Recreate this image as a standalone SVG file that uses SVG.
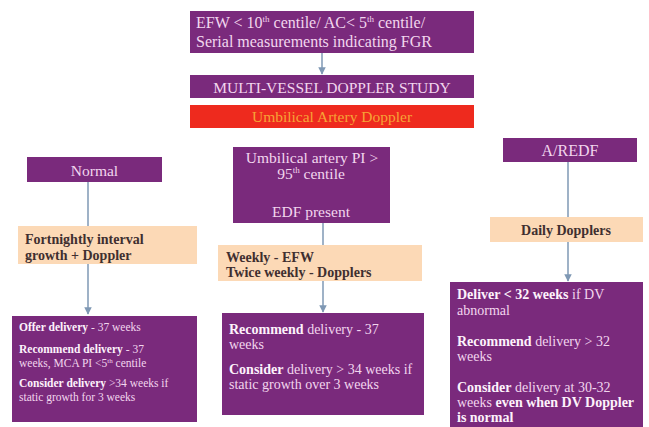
<svg xmlns="http://www.w3.org/2000/svg" width="649" height="427" viewBox="0 0 649 427">
<style>
text,tspan{font-family:"Liberation Serif","Times New Roman",serif}
.p{fill:#7a2a7c}
.pe{fill:#fcd9b6}
.w{fill:#f2d6ee}
.h{font-size:15.5px}
.wb{font-weight:bold;fill:#fdf2fb}
.d{fill:#3f2f30;font-size:14px;font-weight:bold}
.ln{stroke:#7f98b4;stroke-width:1.5;fill:none}
.s12{font-size:11.5px}
.s14{font-size:14px}
</style>
<defs>
<marker id="ah" viewBox="0 0 10 10" refX="9" refY="5" markerWidth="5" markerHeight="5" orient="auto">
<path d="M0,0 L10,5 L0,10 z" fill="#7f98b4"/>
</marker>
</defs>
<rect width="649" height="427" fill="#ffffff"/>
<g id="connectors">
<line class="ln" x1="322" y1="53" x2="322" y2="74" marker-end="url(#ah)"/>
<line class="ln" x1="88" y1="182" x2="88" y2="314" marker-end="url(#ah)"/>
<line class="ln" x1="323" y1="223" x2="323" y2="312" marker-end="url(#ah)"/>
<line class="ln" x1="568" y1="162" x2="568" y2="281" marker-end="url(#ah)"/>
</g>
<g id="fgr">
<rect class="p" x="190" y="11" width="284" height="42"/>
<text class="w" x="196" y="28" font-size="16">EFW &lt; 10<tspan font-size="9" dy="-6">th</tspan><tspan dy="6"> centile/ AC&lt; 5</tspan><tspan font-size="9" dy="-6">th</tspan><tspan dy="6"> centile/</tspan></text>
<text class="w" x="196" y="47" font-size="16">Serial measurements indicating FGR</text>
</g>
<g id="mvd">
<rect class="p" x="190" y="75" width="284" height="23"/>
<text class="w h" x="332" y="93" text-anchor="middle">MULTI-VESSEL DOPPLER STUDY</text>
</g>
<g id="uad">
<rect x="190" y="105" width="284" height="23" fill="#ee2a1e"/>
<text class="h" x="332" y="122" text-anchor="middle" fill="#f6a236">Umbilical Artery Doppler</text>
</g>
<g id="normal">
<rect class="p" x="27" y="157" width="135" height="25"/>
<text class="w h" x="94.5" y="176" text-anchor="middle">Normal</text>
</g>
<g id="fortnightly">
<rect class="pe" x="18" y="226" width="179" height="38"/>
<text class="d" x="25" y="244">Fortnightly interval</text>
<text class="d" x="25" y="260">growth + Doppler</text>
</g>
<g id="leftout">
<rect class="p" x="12" y="316" width="185" height="106"/>
<text class="w s12" x="19" y="331"><tspan class="wb">Offer delivery</tspan> - 37 weeks</text>
<text class="w s12" x="19" y="353"><tspan class="wb">Recommend delivery</tspan> - 37</text>
<text class="w s12" x="19" y="366.5">weeks, MCA PI &lt;5<tspan font-size="7" dy="-4">th</tspan><tspan dy="4"> centile</tspan></text>
<text class="w s12" x="19" y="387"><tspan class="wb">Consider delivery</tspan> &gt;34 weeks if</text>
<text class="w s12" x="19" y="400.5">static growth for 3 weeks</text>
</g>
<g id="uapi">
<rect class="p" x="233" y="147" width="157" height="76"/>
<text class="w h" x="312" y="163" text-anchor="middle">Umbilical artery PI &gt;</text>
<text class="w h" x="311" y="179" text-anchor="middle">95<tspan font-size="9" dy="-6">th</tspan><tspan dy="6"> centile</tspan></text>
<text class="w h" x="311" y="217" text-anchor="middle">EDF present</text>
</g>
<g id="weekly">
<rect class="pe" x="218" y="245" width="204" height="36"/>
<text class="d" x="226" y="262">Weekly - EFW</text>
<text class="d" x="226" y="277">Twice weekly - Dopplers</text>
</g>
<g id="midout">
<rect class="p" x="222" y="313" width="202" height="102"/>
<text class="w s14" x="229" y="334"><tspan class="wb">Recommend</tspan> delivery - 37</text>
<text class="w s14" x="229" y="349">weeks</text>
<text class="w s14" x="229" y="374"><tspan class="wb">Consider</tspan> delivery &gt; 34 weeks if</text>
<text class="w s14" x="229" y="389">static growth over 3 weeks</text>
</g>
<g id="aredf">
<rect class="p" x="503" y="138" width="134" height="24"/>
<text class="w" x="570" y="156" text-anchor="middle" font-size="16">A/REDF</text>
</g>
<g id="daily">
<rect class="pe" x="490" y="217" width="153" height="25"/>
<text class="d" x="566" y="235" text-anchor="middle" font-size="15.5">Daily Dopplers</text>
</g>
<g id="rightout">
<rect class="p" x="450" y="282" width="193" height="145"/>
<text class="w s14" x="457" y="299"><tspan class="wb">Deliver &lt; 32 weeks</tspan> if DV</text>
<text class="w s14" x="457" y="315">abnormal</text>
<text class="w s14" x="457" y="346"><tspan class="wb">Recommend</tspan> delivery &gt; 32</text>
<text class="w s14" x="457" y="361">weeks</text>
<text class="w s14" x="457" y="392"><tspan class="wb">Consider</tspan> delivery at 30-32</text>
<text class="w s14" x="457" y="407">weeks <tspan class="wb">even when DV Doppler</tspan></text>
<text class="w s14" x="457" y="422"><tspan class="wb">is normal</tspan></text>
</g>
</svg>
